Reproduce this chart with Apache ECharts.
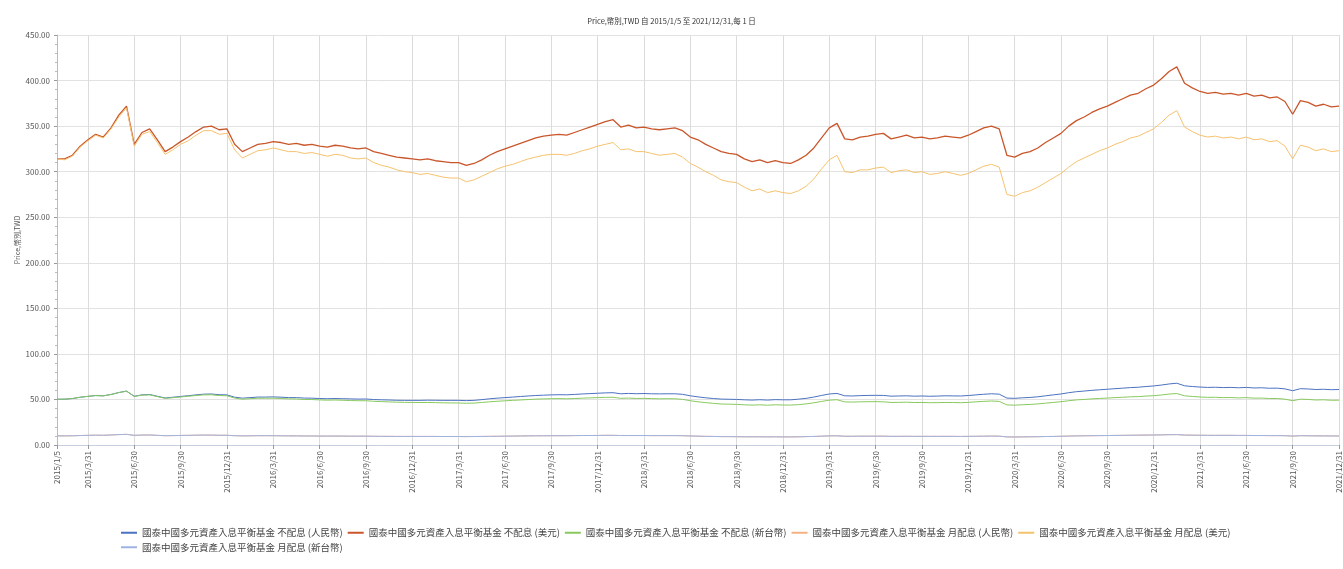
<!DOCTYPE html>
<html lang="zh-Hant">

<head>
    <meta charset="UTF-8">
    <title>Price</title>
    <style>
        html, body { margin: 0; padding: 0; background: #fff; }
        #main { width: 1343px; height: 569px; }
    </style>
</head>

<body>
    <div id="main"></div>
    <script src="https://cdn.jsdelivr.net/npm/echarts@6/dist/echarts.min.js"></script>
    <script>
        var fundName = '國泰中國多元資產入息平衡基金';
        var seriesNames = [
            fundName + ' 不配息 (人民幣)',
            fundName + ' 不配息 (美元)',
            fundName + ' 不配息 (新台幣)',
            fundName + ' 月配息 (人民幣)',
            fundName + ' 月配息 (美元)',
            fundName + ' 月配息 (新台幣)'
        ];
        var colors = ['#4b72c0', '#c9562a', '#88c95e', '#f4b183', '#f5c26e', '#9fb3e2'];

        // 日期：起點 + 每月 15 日與月底
        var dates = ['2015/1/5', '2015/1/31', '2015/2/28', '2015/3/15', '2015/3/31'];
        for (var y = 2015; y <= 2021; y++) {
            for (var m = (y === 2015 ? 4 : 1); m <= 12; m++) {
                var last = new Date(y, m, 0).getDate();
                dates.push(y + '/' + m + '/15');
                dates.push(y + '/' + m + '/' + last);
            }
        }

        var yTicks = { min: 0, max: 450, interval: 50 };

        var rmbAcc = [50.2, 50.3, 51.0, 52.4, 53.4,
            54.3, 54.0, 55.5, 57.6, 59.2, 53.5, 55.0, 55.4, 53.5, 51.6, 52.4, 53.3,
            54.1, 55.0, 55.8, 56.0, 55.2, 55.0, 52.5, 51.4, 52.0, 52.6, 52.6, 52.8,
            52.5, 52.0, 52.0, 51.5, 51.4, 51.0, 50.8, 51.0, 50.8, 50.6, 50.4, 50.5,
            49.9, 49.6, 49.4, 49.1, 49.0, 49.0, 49.0, 49.2, 49.1, 49.0, 49.0, 49.0,
            48.7, 49.0, 49.8, 50.7, 51.4, 52.0, 52.6, 53.2, 53.8, 54.3, 54.7, 55.0,
            55.2, 55.1, 55.5, 56.0, 56.4, 56.8, 57.2, 57.4, 56.2, 56.6, 56.3, 56.5,
            56.2, 56.1, 56.2, 56.2, 55.6, 54.0, 52.8, 51.8, 51.0, 50.4, 50.2, 50.0,
            49.6, 49.3, 49.7, 49.3, 49.8, 49.6, 49.6, 50.3, 51.2, 52.6, 54.4, 56.0,
            56.6, 54.0, 53.8, 54.2, 54.4, 54.5, 54.4, 53.6, 53.8, 54.0, 53.6, 53.8,
            53.5, 53.7, 54.0, 53.9, 53.8, 54.3, 55.0, 55.7, 56.2, 55.8, 51.5, 51.2,
            51.8, 52.2, 52.9, 54.0, 55.0, 56.0, 57.4, 58.5, 59.2, 60.0, 60.6, 61.2,
            61.8, 62.4, 63.0, 63.4, 64.2, 64.8, 65.8, 67.0, 67.8, 65.0, 64.2, 63.6,
            63.2, 63.4, 63.0, 63.2, 62.8, 63.2, 62.6, 62.8, 62.3, 62.4, 61.6, 59.6,
            61.8, 61.5, 60.9, 61.2, 60.7, 60.9];

        var usdAcc = [314, 314, 318, 328, 335,
            341, 338, 348, 362, 372, 330, 343, 347, 335, 322, 327, 333,
            338, 344, 349, 350, 346, 347, 330, 322, 326, 330, 331, 333,
            332, 330, 331, 329, 330, 328, 327, 329, 328, 326, 325, 326,
            322, 320, 318, 316, 315, 314, 313, 314, 312, 311, 310, 310,
            307, 309, 313, 318, 322, 325, 328, 331, 334, 337, 339, 340,
            341, 340, 343, 346, 349, 352, 355, 357, 349, 351, 348, 349,
            347, 346, 347, 348, 345, 338, 335, 330, 326, 322, 320, 319,
            314, 311, 313, 310, 312, 310, 309, 313, 318, 326, 337, 348,
            353, 336, 335, 338, 339, 341, 342, 336, 338, 340, 337, 338,
            336, 337, 339, 338, 337, 340, 344, 348, 350, 347, 318, 316,
            320, 322, 326, 332, 337, 342, 350, 356, 360, 365, 369, 372,
            376, 380, 384, 386, 391, 395, 402, 410, 415, 397, 392, 388,
            386, 387, 385, 386, 384, 386, 383, 384, 381, 382, 377, 363,
            378, 376, 372, 374, 371, 372];

        var twdAcc = [50.2, 50.3, 51.0, 52.4, 53.4,
            54.2, 53.9, 55.4, 57.5, 59.0, 53.3, 54.7, 55.0, 53.1, 51.2, 51.9, 52.7,
            53.5, 54.3, 55.0, 55.1, 54.3, 54.0, 51.5, 50.3, 50.8, 51.3, 51.3, 51.4,
            51.0, 50.6, 50.5, 50.0, 49.9, 49.5, 49.2, 49.4, 49.1, 48.8, 48.6, 48.6,
            48.0, 47.6, 47.3, 47.0, 46.8, 46.7, 46.6, 46.7, 46.5, 46.3, 46.2, 46.1,
            45.8, 46.0, 46.7, 47.4, 48.0, 48.5, 49.0, 49.4, 49.9, 50.3, 50.6, 50.8,
            50.9, 50.7, 51.0, 51.4, 51.7, 52.0, 52.3, 52.4, 51.2, 51.5, 51.1, 51.2,
            50.9, 50.7, 50.8, 50.7, 50.1, 48.6, 47.4, 46.5, 45.7, 45.0, 44.8, 44.6,
            44.1, 43.8, 44.1, 43.7, 44.1, 43.9, 43.8, 44.3, 45.1, 46.3, 47.8, 49.2,
            49.7, 47.3, 47.1, 47.4, 47.5, 47.6, 47.4, 46.7, 46.8, 47.0, 46.6, 46.7,
            46.4, 46.5, 46.7, 46.6, 46.4, 46.8, 47.4, 47.9, 48.3, 47.9, 44.0, 43.7,
            44.2, 44.5, 45.1, 45.9, 46.7, 47.5, 48.6, 49.5, 50.0, 50.6, 51.1, 51.5,
            52.0, 52.4, 52.9, 53.1, 53.7, 54.1, 54.9, 55.9, 56.5, 54.0, 53.3, 52.7,
            52.3, 52.4, 52.0, 52.1, 51.7, 52.0, 51.4, 51.5, 51.0, 51.0, 50.3, 48.6,
            50.3, 50.0, 49.4, 49.6, 49.1, 49.2];

        var usdMonthly = [314, 313, 317, 327, 334,
            340, 337, 347, 360, 370, 328, 341, 344, 332, 319, 324, 330,
            334, 340, 345, 345, 341, 342, 324, 315, 319, 323, 324, 326,
            324, 322, 322, 320, 321, 319, 317, 319, 318, 315, 314, 315,
            310, 307, 305, 302, 300, 299, 297, 298, 296, 294, 293, 293,
            289, 291, 295, 299, 303, 306, 308, 311, 314, 316, 318, 319,
            319, 318, 320, 323, 325, 328, 330, 332, 324, 325, 322, 322,
            320, 318, 319, 320, 316, 309, 305, 300, 296, 291, 289, 288,
            283, 279, 281, 277, 279, 277, 276, 279, 284, 292, 303, 313,
            318, 300, 299, 302, 302, 304, 305, 299, 301, 302, 299, 300,
            297, 298, 300, 298, 296, 298, 302, 306, 308, 305, 275, 273,
            277, 279, 283, 288, 293, 298, 305, 311, 315, 319, 323, 326,
            330, 333, 337, 339, 343, 347, 354, 362, 367, 349, 344, 340,
            338, 339, 337, 338, 336, 338, 335, 336, 333, 334, 328, 314,
            329, 327, 323, 325, 322, 323];

        var twdMonthly = [10.0, 10.0, 10.1, 10.4, 10.6,
            10.8, 10.7, 11.0, 11.4, 11.7, 10.6, 10.9, 11.0, 10.6, 10.2, 10.3, 10.5,
            10.6, 10.8, 10.9, 10.9, 10.7, 10.7, 10.2, 10.0, 10.1, 10.2, 10.2, 10.2,
            10.1, 10.0, 10.0, 9.9, 9.9, 9.8, 9.8, 9.8, 9.8, 9.7, 9.7, 9.7,
            9.6, 9.5, 9.5, 9.4, 9.4, 9.4, 9.4, 9.4, 9.4, 9.3, 9.3, 9.3,
            9.2, 9.3, 9.4, 9.5, 9.6, 9.7, 9.8, 9.9, 10.0, 10.1, 10.1, 10.2,
            10.2, 10.2, 10.3, 10.4, 10.4, 10.5, 10.6, 10.6, 10.4, 10.4, 10.4, 10.4,
            10.3, 10.3, 10.3, 10.3, 10.2, 9.9, 9.7, 9.5, 9.4, 9.2, 9.2, 9.1,
            9.0, 9.0, 9.0, 8.9, 9.0, 8.9, 8.9, 9.0, 9.2, 9.4, 9.7, 10.0,
            10.1, 9.6, 9.6, 9.7, 9.7, 9.7, 9.7, 9.5, 9.5, 9.6, 9.5, 9.5,
            9.5, 9.5, 9.5, 9.5, 9.4, 9.5, 9.6, 9.7, 9.8, 9.7, 8.9, 8.8,
            8.9, 9.0, 9.1, 9.3, 9.4, 9.6, 9.8, 10.0, 10.1, 10.2, 10.3, 10.4,
            10.5, 10.6, 10.7, 10.8, 10.9, 11.0, 11.1, 11.3, 11.4, 10.9, 10.8, 10.7,
            10.6, 10.6, 10.6, 10.6, 10.5, 10.5, 10.4, 10.4, 10.3, 10.3, 10.2, 9.8,
            10.2, 10.1, 10.0, 10.0, 9.9, 9.9];

        // 人民幣月配息與新台幣月配息在圖上重疊
        var rmbMonthly = twdMonthly;

        var seriesData = [rmbAcc, usdAcc, twdAcc, rmbMonthly, usdMonthly, twdMonthly];

        function isTickDate(idx, val) {
            if (idx === 0) return true;
            return /\/(3\/31|6\/30|9\/30|12\/31)$/.test(val);
        }

        var fontFamily = '"Noto Sans CJK TC", "Noto Sans", sans-serif';
        var chart = echarts.init(document.getElementById('main'));

        var option = {
            animation: false,
            color: colors,
            textStyle: { fontFamily: fontFamily },
            title: {
                text: 'Price,幣別,TWD 自 2015/1/5 至 2021/12/31,每 1 日',
                left: 'center',
                top: 12,
                textStyle: { fontSize: 7.5, fontWeight: 'normal', color: '#333', fontFamily: fontFamily }
            },
            grid: { left: 57, right: 0, top: 35, bottom: 124, containLabel: false },
            legend: {
                left: 116,
                top: 523,
                width: 1150,
                icon: 'rect',
                itemWidth: 16,
                itemHeight: 2,
                itemGap: 5,
                textStyle: { fontSize: 9.5, color: '#444', fontFamily: fontFamily }
            },
            xAxis: {
                type: 'category',
                data: dates,
                boundaryGap: false,
                axisLine: { lineStyle: { color: '#c8cfe0' } },
                axisTick: { interval: isTickDate, length: 4, lineStyle: { color: '#999' } },
                axisLabel: {
                    interval: isTickDate,
                    rotate: 90,
                    fontSize: 8,
                    color: '#555',
                    margin: 6
                },
                splitLine: { show: true, interval: isTickDate, lineStyle: { color: '#dcdcdc', width: 1 } }
            },
            yAxis: {
                type: 'value',
                min: yTicks.min,
                max: yTicks.max,
                interval: yTicks.interval,
                name: 'Price,幣別,TWD',
                nameLocation: 'middle',
                nameGap: 36,
                nameMoveOverlap: false,
                nameTextStyle: { fontSize: 7, color: '#555' },
                axisLine: { show: true, lineStyle: { color: '#bbb' } },
                axisTick: { show: true, length: 3, lineStyle: { color: '#999' } },
                minorTick: { show: true, splitNumber: 5, length: 2, lineStyle: { color: '#bbb' } },
                axisLabel: {
                    fontSize: 8,
                    color: '#555',
                    margin: 7,
                    formatter: function (v) { return v.toFixed(2); }
                },
                splitLine: { lineStyle: { color: '#e2e2e2' } }
            },
            series: seriesNames.map(function (name, i) {
                return {
                    name: name,
                    type: 'line',
                    data: seriesData[i],
                    showSymbol: false,
                    symbol: 'none',
                    lineStyle: { width: i === 1 ? 1.3 : 1 },
                    z: i === 3 ? 1 : 2 + i
                };
            })
        };
        chart.setOption(option);
    </script>
</body>

</html>
